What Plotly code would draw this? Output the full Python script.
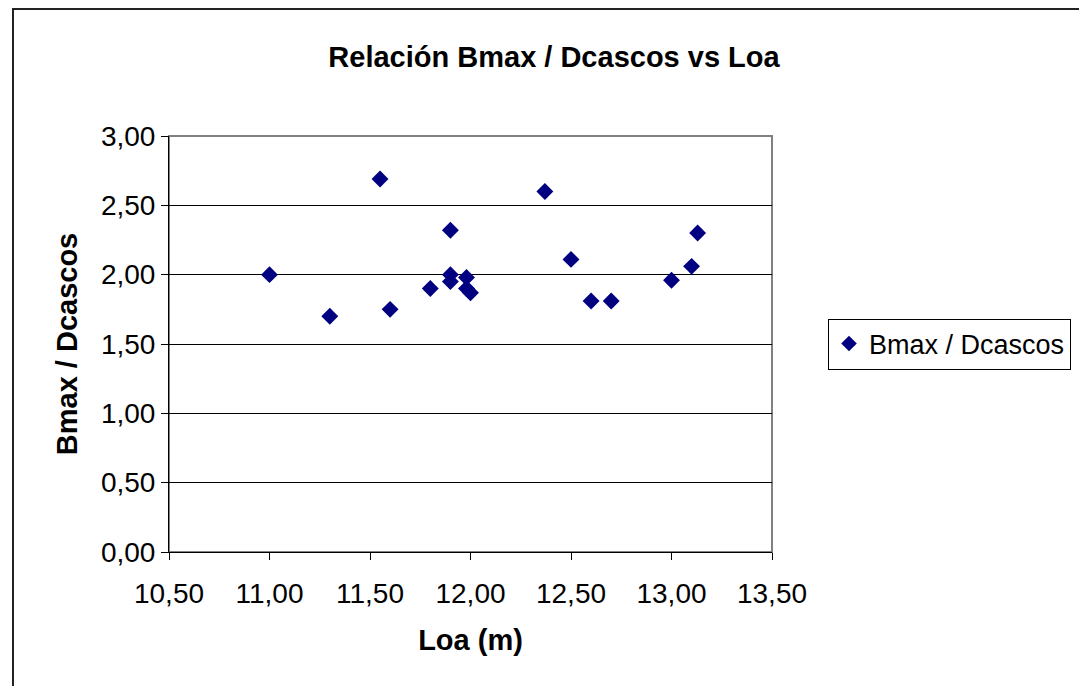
import plotly.graph_objects as go

loa = [11.00, 11.30, 11.55, 11.60, 11.80, 11.90, 11.90, 11.90, 11.98, 11.98,
       12.00, 12.37, 12.50, 12.60, 12.70, 13.00, 13.10, 13.13]
ratio = [2.00, 1.70, 2.69, 1.75, 1.90, 2.32, 2.00, 1.95, 1.98, 1.90,
         1.87, 2.60, 2.11, 1.81, 1.81, 1.96, 2.06, 2.30]
series_name = "Bmax / Dcascos"
title_text = "Relación Bmax / Dcascos vs Loa"
x_title = "Loa (m)"
y_title = "Bmax / Dcascos"

FONT = "Liberation Sans, Arial, sans-serif"

fig = go.Figure()
fig.add_trace(go.Scatter(
    x=loa, y=ratio, mode="markers", name=series_name,
    marker=dict(symbol="diamond", size=13, color="#000080",
                line=dict(width=0)),
))

W, H = 1079, 686
L, R, T, B = 169, 307, 136, 134
pw, ph = W - L - R, H - T - B

fig.update_layout(
    width=W, height=H,
    margin=dict(l=L, r=R, t=T, b=B, autoexpand=False),
    paper_bgcolor="white", plot_bgcolor="white",
    separators=",.",
    font=dict(family=FONT, size=28, color="black"),
    title=dict(text=title_text, xref="container", yref="container",
               x=554 / W, y=1 - 57 / H, xanchor="center", yanchor="middle",
               font=dict(family=FONT, size=29, color="black", weight="bold")),
    showlegend=True,
    legend=dict(x=(828 - L) / pw, y=0.5, xanchor="left", yanchor="middle",
                bordercolor="black", borderwidth=1, bgcolor="white",
                font=dict(family=FONT, size=27, color="black"),
                itemsizing="constant"),
    xaxis=dict(range=[10.5, 13.5], dtick=0.5, tick0=10.5, tickformat=".2f",
               showgrid=False, zeroline=False,
               showline=True, linecolor="black", linewidth=1,
               ticks="outside", ticklen=7, tickcolor="black",
               ticklabelstandoff=9,
               tickfont=dict(family=FONT, size=28, color="black"),
               title=dict(text=x_title, standoff=22,
                          font=dict(family=FONT, size=29, color="black", weight="bold"))),
    yaxis=dict(range=[0, 3], dtick=0.5, tick0=0, tickformat=".2f",
               showgrid=True, gridcolor="black", gridwidth=1,
               zeroline=False,
               showline=True, linecolor="black", linewidth=1,
               ticks="outside", ticklen=7, tickcolor="black",
               tickfont=dict(family=FONT, size=28, color="black"),
               title=dict(text=y_title, standoff=14,
                          font=dict(family=FONT, size=29, color="black", weight="bold"))),
    shapes=[
        # plot area border (top/right grey)
        dict(type="rect", xref="paper", yref="paper", x0=0, y0=0, x1=1, y1=1,
             line=dict(color="#808080", width=2), layer="below"),
        # outer chart border
        dict(type="rect", xref="paper", yref="paper",
             x0=(13 - L) / pw, x1=(W + 20 - L) / pw,
             y0=-(H + 20 - T - ph) / ph, y1=1 + (T - 9) / ph,
             line=dict(color="#222222", width=2)),
    ],
)

fig.write_html("out.html")
